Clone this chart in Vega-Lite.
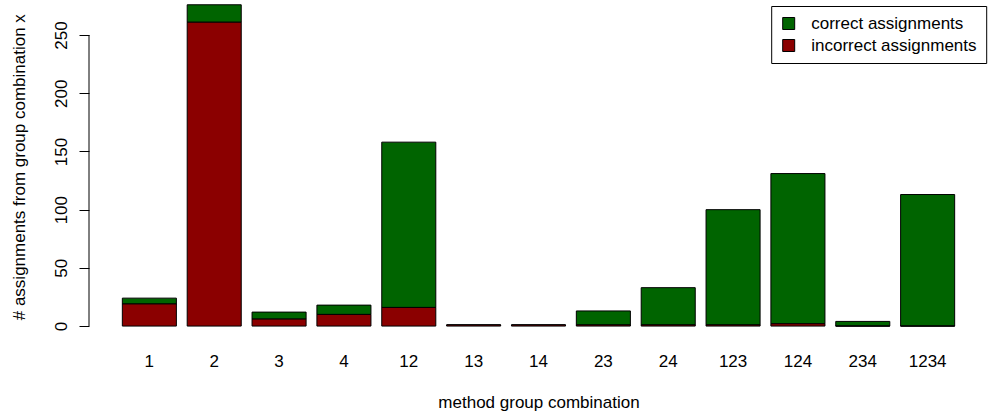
{
  "$schema": "https://vega.github.io/schema/vega-lite/v6.json",
  "width": 899,
  "height": 339,
  "autosize": "none",
  "padding": {"left": 89, "top": 0, "right": 1, "bottom": 77},
  "background": "white",
  "config": {
    "view": {"stroke": null},
    "font": "Liberation Sans",
    "axis": {
      "labelFont": "Liberation Sans",
      "titleFont": "Liberation Sans",
      "labelColor": "black",
      "titleColor": "black",
      "labelFontSize": 17,
      "titleFontSize": 17,
      "titleFontWeight": "normal",
      "grid": false
    },
    "legend": {
      "labelFont": "Liberation Sans",
      "labelFontSize": 17,
      "labelColor": "black",
      "labelLimit": 0
    }
  },
  "datasets": {
    "assignments": [
      {"combination": "1", "type": "correct assignments", "count": 5},
      {"combination": "1", "type": "incorrect assignments", "count": 19},
      {"combination": "2", "type": "correct assignments", "count": 15},
      {"combination": "2", "type": "incorrect assignments", "count": 261},
      {"combination": "3", "type": "correct assignments", "count": 6},
      {"combination": "3", "type": "incorrect assignments", "count": 6},
      {"combination": "4", "type": "correct assignments", "count": 8},
      {"combination": "4", "type": "incorrect assignments", "count": 10},
      {"combination": "12", "type": "correct assignments", "count": 142},
      {"combination": "12", "type": "incorrect assignments", "count": 16},
      {"combination": "13", "type": "correct assignments", "count": 0},
      {"combination": "13", "type": "incorrect assignments", "count": 1},
      {"combination": "14", "type": "correct assignments", "count": 0},
      {"combination": "14", "type": "incorrect assignments", "count": 1},
      {"combination": "23", "type": "correct assignments", "count": 12},
      {"combination": "23", "type": "incorrect assignments", "count": 1},
      {"combination": "24", "type": "correct assignments", "count": 32},
      {"combination": "24", "type": "incorrect assignments", "count": 1},
      {"combination": "123", "type": "correct assignments", "count": 99},
      {"combination": "123", "type": "incorrect assignments", "count": 1},
      {"combination": "124", "type": "correct assignments", "count": 129},
      {"combination": "124", "type": "incorrect assignments", "count": 2},
      {"combination": "234", "type": "correct assignments", "count": 4},
      {"combination": "234", "type": "incorrect assignments", "count": 0},
      {"combination": "1234", "type": "correct assignments", "count": 113},
      {"combination": "1234", "type": "incorrect assignments", "count": 0}
    ],
    "yAxisSpan": [
      {"lo": 0, "hi": 250}
    ]
  },
  "layer": [
    {
      "data": {"name": "assignments"},
      "mark": {"type": "bar", "stroke": "black", "strokeWidth": 1},
      "encoding": {
        "x": {
          "field": "combination",
          "type": "nominal",
          "sort": null,
          "scale": {"paddingInner": 0.1667, "paddingOuter": 0.514},
          "axis": {
            "title": "method group combination",
            "domain": false,
            "ticks": false,
            "tickSize": 0,
            "labelAngle": 0,
            "labelBaseline": "alphabetic",
            "labelPadding": 27.7,
            "titleBaseline": "alphabetic",
            "titleY": 68
          }
        },
        "y": {
          "field": "count",
          "type": "quantitative",
          "stack": "zero",
          "scale": {"domain": [-11.1, 280.1], "nice": false, "zero": false},
          "axis": {
            "title": "# assignments from group combination x",
            "values": [0, 50, 100, 150, 200, 250],
            "domain": false,
            "ticks": true,
            "tickSize": 10,
            "tickColor": "black",
            "tickWidth": 1,
            "labelAngle": -90,
            "labelAlign": "center",
            "labelBaseline": "alphabetic",
            "labelPadding": 13,
            "labelFlush": false,
            "labelOverlap": false,
            "titleAngle": -90,
            "titleAlign": "center",
            "titleBaseline": "alphabetic",
            "titleX": -65,
            "titleY": 166.7
          }
        },
        "color": {
          "field": "type",
          "type": "nominal",
          "scale": {
            "domain": ["correct assignments", "incorrect assignments"],
            "range": ["#006400", "#8B0000"]
          },
          "legend": {
            "title": null,
            "orient": "none",
            "legendX": 682.2,
            "legendY": 6,
            "strokeColor": "black",
            "fillColor": "white",
            "padding": 9,
            "cornerRadius": 0,
            "symbolType": "square",
            "symbolSize": 144,
            "symbolStrokeColor": "black",
            "symbolStrokeWidth": 1,
            "symbolOpacity": 1,
            "labelOffset": 14,
            "labelLimit": 0,
            "rowPadding": 4
          }
        },
        "order": {"field": "type", "sort": "descending"}
      }
    },
    {
      "data": {"name": "yAxisSpan"},
      "mark": {"type": "rule", "color": "black", "strokeWidth": 1},
      "encoding": {
        "x": {"datum": 0, "type": "quantitative", "scale": {"domain": [0, 10], "nice": false}, "axis": null},
        "y": {"field": "lo", "type": "quantitative"},
        "y2": {"field": "hi"}
      }
    }
  ],
  "resolve": {"scale": {"x": "independent"}, "axis": {"x": "independent"}}
}
